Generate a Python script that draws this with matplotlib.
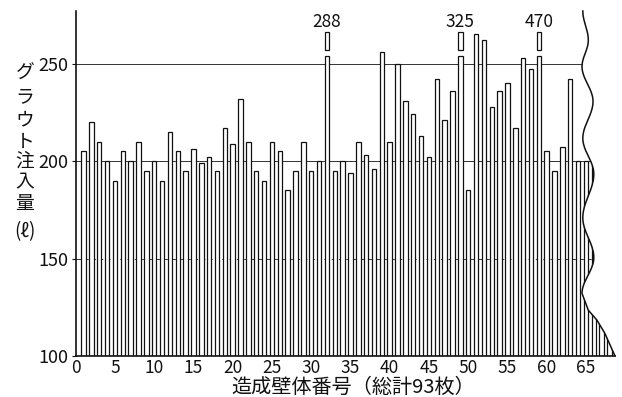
"""
Grout injection per constructed wall panel (bar chart with a break mark on the right).

    python3 plot.py   ->  out.png
"""

import numpy as np
import matplotlib
matplotlib.use("Agg")
import matplotlib.pyplot as plt
from matplotlib.patches import Polygon

plt.rcParams["font.family"] = ["Noto Sans CJK JP", "DejaVu Sans"]

# data
WALL_NO = list(range(1, 69))
GROUT_L = [205, 220, 210, 200, 190, 205, 200, 210, 195, 200,
           190, 215, 205, 195, 206, 199, 202, 195, 217, 209,
           232, 210, 195, 190, 210, 205, 185, 195, 210, 195,
           200, 288, 195, 200, 194, 210, 203, 196, 256, 210,
           250, 231, 224, 213, 202, 242, 221, 236, 325, 185,
           265, 262, 228, 236, 240, 217, 253, 247, 470, 205,
           195, 207, 242, 200, 200, 200, 200, 200]
X_TICKS = list(range(0, 66, 5))
Y_TICKS = [100, 150, 200, 250]
GRID_Y = [150, 200, 250]
YLABEL = "グラウト注入量"
YUNIT = "(ℓ)"
XLABEL = "造成壁体番号（総計93枚）"

# break mark (decoration): turning points of the wave, then the tail to the baseline
WAVE_PTS = [(64.6, 277), (65.3, 262), (64.5, 248.5), (65.9, 230.6), (64.6, 211.7),
            (66.0, 193.4), (64.6, 170.9), (66.0, 150.5), (64.5, 132.1)]
WAVE_TAIL = [(65.3, 123.5), (66.4, 118.4), (67.4, 111.7), (68.7, 100)]

X_MAX, Y_MIN, Y_MAX = 68.7, 100, 277
CUT_AT, STUB = 254, (257, 266)   # broken bars: drawn to CUT_AT, plus a short stub
INK = "#111111"


def wave_line():
    xs, ys = [], []
    for (xa, ya), (xb, yb) in zip(WAVE_PTS[:-1], WAVE_PTS[1:]):
        t = np.linspace(0, 1, 20, endpoint=False)
        xs.extend(xa + (xb - xa) * (1 - np.cos(np.pi * t)) / 2)
        ys.extend(ya + (yb - ya) * t)
    xs.append(WAVE_PTS[-1][0]); ys.append(WAVE_PTS[-1][1])
    for x, y in WAVE_TAIL:
        xs.append(x); ys.append(y)
    return np.array(xs), np.array(ys)


def main():
    fig = plt.figure(figsize=(6.22, 3.97), dpi=100, facecolor="white")
    ax = fig.add_axes([75.7 / 622, 41 / 397, (615 - 75.7) / 622, 345 / 397])
    ax.set_xlim(0, X_MAX)
    ax.set_ylim(Y_MIN, Y_MAX)

    wx, wy = wave_line()
    clip = Polygon(np.column_stack([np.r_[0, wx[::-1], 0], np.r_[Y_MIN, wy[::-1], Y_MAX]]),
                   closed=True, transform=ax.transData, facecolor="none", edgecolor="none")
    ax.add_patch(clip)

    # reference lines
    for y in GRID_Y:
        ls = (0, (5, 2.5)) if y == 150 else "-"
        ln, = ax.plot([0, X_MAX], [y, y], color="#333333", lw=0.7, ls=ls, zorder=1)
        ln.set_clip_path(clip)

    vals = np.array(GROUT_L, dtype=float)
    broken = vals > Y_MAX
    shown = np.where(broken, CUT_AT, vals) - Y_MIN
    bars = ax.bar(WALL_NO, shown, bottom=Y_MIN, width=0.57, facecolor="white",
                  edgecolor=INK, linewidth=0.9, zorder=2)
    for p in bars:
        p.set_clip_path(clip)

    for x, v, b in zip(WALL_NO, GROUT_L, broken):
        if b:
            ax.bar(x, STUB[1] - STUB[0], bottom=STUB[0], width=0.57, facecolor="white",
                   edgecolor=INK, linewidth=0.9, zorder=2, clip_on=False)
            ax.text(x, 271.5, f"{v}", ha="center", va="center", fontsize=12.5, color=INK)

    ax.plot(wx, wy, color=INK, lw=1.1, zorder=3, clip_on=False)

    for sp in ["top", "right"]:
        ax.spines[sp].set_visible(False)
    for sp in ["left", "bottom"]:
        ax.spines[sp].set_linewidth(1.2)
        ax.spines[sp].set_color(INK)

    ax.set_xticks(X_TICKS)
    ax.set_xticklabels([str(t) for t in X_TICKS])
    ax.set_yticks(Y_TICKS)
    ax.set_yticklabels([str(t) for t in Y_TICKS])
    ax.tick_params(axis="x", length=0, pad=2, labelsize=12.5, colors=INK)
    ax.tick_params(axis="y", length=3, width=0.8, pad=2, labelsize=13, colors=INK)

    fig.text(353 / 622, 1 - 387 / 397, XLABEL, ha="center", va="center", fontsize=14.5, color=INK)
    for ch, py in zip(YLABEL, [73, 97, 120, 141, 161, 182, 203]):
        fig.text(25 / 622, 1 - py / 397, ch, ha="center", va="center", fontsize=13.5, color=INK)
    fig.text(25 / 622, 1 - 232 / 397, YUNIT, ha="center", va="center", fontsize=13.5, color=INK)

    fig.savefig("out.png", dpi=100, facecolor="white")
    plt.close(fig)


if __name__ == "__main__":
    main()
